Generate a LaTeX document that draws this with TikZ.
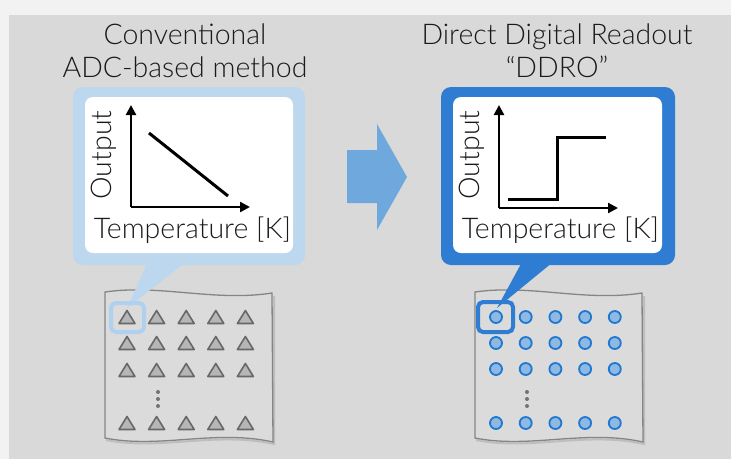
\documentclass[tikz,border=0pt]{standalone}
\usepackage{fontspec}
\setmainfont{Lato}[UprightFont={* Light}]
\usetikzlibrary{arrows.meta}
\definecolor{outerbg}{HTML}{F2F2F2}
\definecolor{panelgray}{HTML}{D9D9D9}
\definecolor{lightblue}{HTML}{BDD7EE}
\definecolor{hlblue}{HTML}{B0D0F0}
\definecolor{darkblue}{HTML}{2E7DD2}
\definecolor{arrowblue}{HTML}{6FA8DC}
\definecolor{circfill}{HTML}{8FB8E3}
\definecolor{circline}{HTML}{1F78D0}
\definecolor{trifill}{HTML}{B6B6B6}
\definecolor{triline}{HTML}{686868}
\definecolor{chipline}{HTML}{858585}
\definecolor{txt}{HTML}{1A1A1A}
\begin{document}
\begin{tikzpicture}[x=1pt,y=-1pt,
  titletext/.style={text=txt,font=\fontsize{28.5}{30}\selectfont,inner sep=0pt},
  axlbl/.style={text=txt,font=\fontsize{28.5}{30}\selectfont,inner sep=0pt},
  axisline/.style={line width=2.3pt,-{Triangle[length=10pt,width=10pt]}},
  plotline/.style={line width=3pt},
  trishape/.style={fill=trifill,draw=triline,line width=1.6pt,line join=round},
  circshape/.style={fill=circfill,draw=circline,line width=1.8pt},
  chipedge/.style={draw=chipline,line width=1.3pt,fill=panelgray!96!white},
  chipshadow/.style={draw=black!45,line width=2pt,opacity=0.35}
]
\useasboundingbox (0,0) rectangle (731,459);
\fill[outerbg] (0,0) rectangle (731,459);
\fill[panelgray] (9,15) rectangle (731,459);

% titles
\node[titletext,anchor=base] (t1a) at (185,44) {Conventional};
\node[titletext,anchor=base] (t1b) at (185,77) {ADC-based method};
\node[titletext,anchor=base] (t2a) at (557,44) {Direct Digital Readout};
\node[titletext,anchor=base] (t2b) at (557,77) {“DDRO”};

% big arrow
\fill[arrowblue] (347,150) -- (377,150) -- (377,124) -- (407,177) -- (377,230) -- (377,203) -- (347,203) -- cycle;

% chips
\foreach \dx in {0,370}{
  \begin{scope}[xshift=\dx]
    \draw[chipshadow] (106,440) .. controls (160,451) and (215,431) .. (274,444) -- (274,296);
    \path[chipedge] (105,292) .. controls (160,284) and (215,302) .. (272,293)
      -- (273,442) .. controls (215,429) and (160,449) .. (105,438) -- cycle;
  \end{scope}
}

% triangles (left)
\foreach \r in {317,343,370,423}{
  \foreach \i in {0,...,4}{
    \pgfmathsetmacro{\cx}{127+29.6*\i}
    \path[trishape] (\cx-8,\r+6.5) -- (\cx+8,\r+6.5) -- (\cx,\r-6.5) -- cycle;
  }
}
% circles (right)
\foreach \r in {317,343,369,423}{
  \foreach \i in {0,...,4}{
    \pgfmathsetmacro{\cx}{496+29.7*\i}
    \path[circshape] (\cx,\r) circle (6);
  }
}
% vertical dots
\foreach \yy in {392,399,406}{
  \fill[black!55] (158,\yy) circle (2);
  \fill[black!55] (527,\yy) circle (2);
}

% left callout
\fill[lightblue,rounded corners=10] (73,87) rectangle (305,265);
\fill[lightblue] (148,262) -- (186,262) -- (127,308) -- cycle;
\fill[white,rounded corners=8] (85,97) rectangle (293,253);
\draw[hlblue,line width=4pt,rounded corners=5] (111,303) rectangle (144,332);

% right callout
\fill[darkblue,rounded corners=10] (441,87) rectangle (675,265);
\fill[darkblue] (522,262) -- (553,262) -- (497,308) -- cycle;
\fill[white,rounded corners=8] (453,97) rectangle (662,253);
\draw[darkblue,line width=4pt,rounded corners=5] (478,302) rectangle (513,332);

% left plot
\coordinate (lo) at (131,207);
\coordinate (ly) at (131,105);
\coordinate (lx) at (250,207);
\draw[axisline] (lo) -- (ly);
\draw[axisline] (lo) -- (lx);
\coordinate (la) at (149,133);
\coordinate (lb) at (228,196);
\draw[plotline] (la) -- (lb);
\node[axlbl,anchor=base] (lt) at (192.5,238) {Temperature [K]};
\node[axlbl,anchor=base,rotate=90] (lout) at (111,155) {Output};

% right plot
\coordinate (ro) at (499,208);
\coordinate (ry) at (499,105);
\coordinate (rx) at (618,208);
\draw[axisline] (ro) -- (ry);
\draw[axisline] (ro) -- (rx);
\coordinate (s1) at (508,199);
\coordinate (s4) at (606,137);
\draw[plotline,line join=miter] (s1) -- (557,199) -- (557,137) -- (s4);
\node[axlbl,anchor=base] (rt) at (560.5,238) {Temperature [K]};
\node[axlbl,anchor=base,rotate=90] (rout) at (479,155) {Output};
\end{tikzpicture}
\end{document}
